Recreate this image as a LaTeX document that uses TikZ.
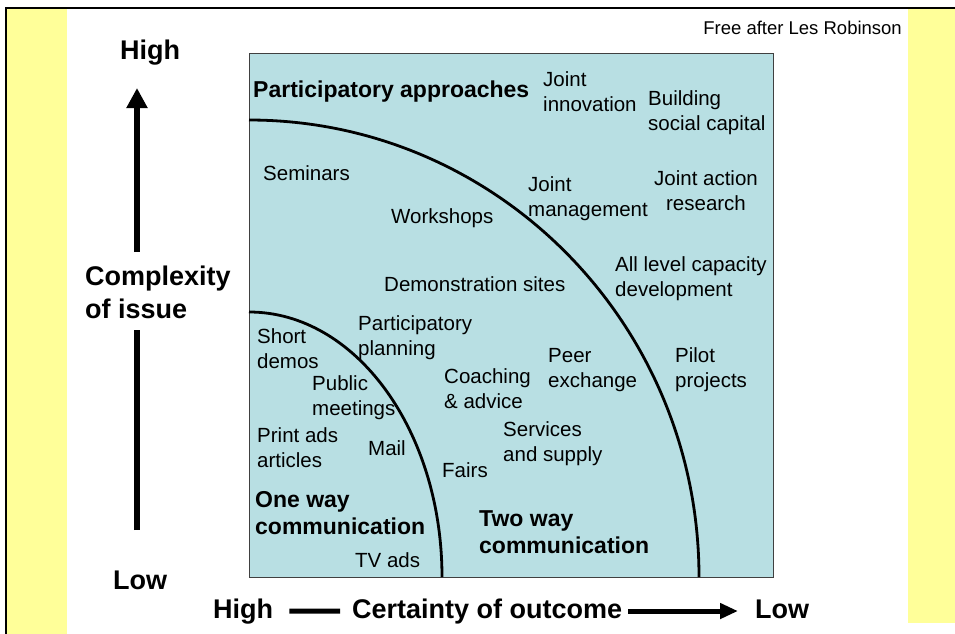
\documentclass[tikz,border=0pt]{standalone}
\usepackage{fontspec}
\setmainfont{Liberation Sans}
\usetikzlibrary{arrows.meta}
\definecolor{panelblue}{RGB}{184,223,227}
\definecolor{stripyellow}{RGB}{255,255,153}
\tikzset{
  item/.style={anchor=base west, inner sep=0pt, align=left, font=\fontsize{20.5}{24.5}\selectfont},
  zone/.style={item, font=\fontsize{23}{27}\selectfont\bfseries},
  axislabel/.style={item, font=\fontsize{27}{33}\selectfont\bfseries},
  boundary/.style={line width=2.8pt},
  yaxis/.style={line width=6pt},
  xaxis/.style={line width=5pt},
}
\begin{document}
\begin{tikzpicture}[x=1pt,y=-1pt]
% Margini e cornice
\useasboundingbox (0,0) rectangle (955,633);
\clip (0,0) rectangle (955,633);
\fill[stripyellow] (7,9) rectangle (67,640);
\fill[stripyellow] (908,9) rectangle (960,623);
\draw[line width=2pt] (6,640) -- (6,8) -- (960,8);

% Pannello con i due confini (archi di ellisse)
\draw[black!75, fill=panelblue] (249,53) rectangle (773,577);
\draw[boundary] (249,312) arc[start angle=90, end angle=0, x radius=193pt, y radius=265pt];
\draw[boundary] (249,120) arc[start angle=90, end angle=0, x radius=450pt, y radius=457pt];

\node[anchor=base east, inner sep=0pt, font=\fontsize{18.5}{22}\selectfont] (credit) at (902,34) {Free after Les Robinson};

% Attivita (y = linea di base dell'ultima riga)
\foreach \px/\py/\txt [count=\k] in {
  263/180/Seminars,
  391/223/Workshops,
  543/111/{Joint\\innovation},
  648/130/{Building\\social capital},
  528/216/{Joint\\management},
  384/291/{Demonstration sites},
  615/296/{All level capacity\\development},
  358/355/{Participatory\\planning},
  257/368/{Short\\demos},
  312/415/{Public\\meetings},
  444/408/{Coaching\\\& advice},
  548/387/{Peer\\exchange},
  675/387/{Pilot\\projects},
  257/467/{Print ads\\articles},
  368/455/Mail,
  503/461/{Services\\and supply},
  442/477/Fairs,
  355/567/{TV ads}
} {
  \node[item] (act\k) at (\px,\py) {\txt};
}
\node[item, anchor=base, align=center] (jointaction) at (706,210) {Joint action\\research};

% Zone
\node[zone] (partic) at (253,97) {Participatory approaches};
\node[zone] (oneway) at (255,534) {One way\\communication};
\node[zone] (twoway) at (479,553) {Two way\\communication};

% Assi
\node[axislabel] (yhigh) at (120,59) {High};
\node[axislabel] (ycplx) at (85,318) {Complexity\\of issue};
\node[axislabel] (ylow) at (113,589) {Low};
\node[axislabel] (xhigh) at (213,618) {High};
\node[axislabel] (xcert) at (352,618) {Certainty of outcome};
\node[axislabel] (xlow) at (755,618) {Low};

\coordinate (ybot) at (137,530);
\coordinate (ytip) at (137,88);
\draw[yaxis, shorten >=12pt] (ybot) -- (ybot |- ycplx.south);
\draw[yaxis, -{Triangle[length=20pt,width=20pt]}, shorten <=13pt] (ytip |- ycplx.north) -- (ytip);
\draw[xaxis, shorten <=16pt, shorten >=12pt] (xhigh.east) -- (xcert.west);
\draw[xaxis, -{Triangle[length=18pt,width=15pt]}, shorten <=6pt, shorten >=17pt] (xcert.east) -- (xcert.east -| xlow.west);

\end{tikzpicture}
\end{document}
